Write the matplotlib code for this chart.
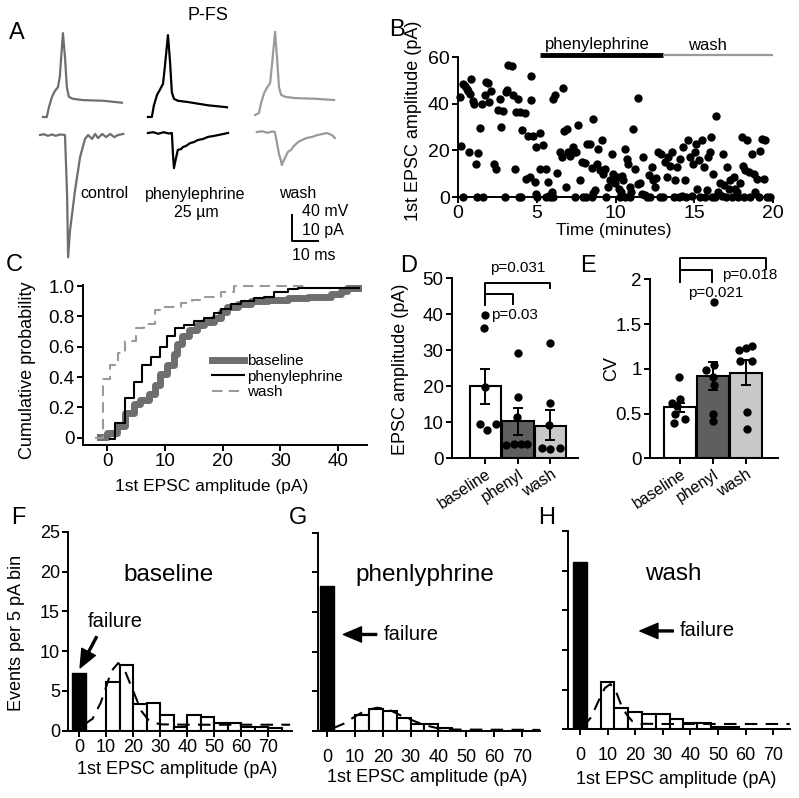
import matplotlib
matplotlib.use('Agg')
import matplotlib.pyplot as plt
import numpy as np

plt.rcParams['font.family'] = ['Liberation Sans', 'DejaVu Sans']
plt.rcParams['axes.linewidth'] = 1.4

# ---------------- data ----------------
# A: example traces (ms, mV) and EPSCs (ms, pA)
SPIKE_T = [0, 1.5, 2.3, 3.5, 4.6, 5.8, 6.5, 7.7, 8.5, 9.2, 10.0, 11.5, 15.4, 23.1, 30.4]
SPIKE_CTRL = [0, 0, 15, 31, 40, 46, 62, 129, 92, 46, 31, 28, 26, 25, 22]
SPIKE_PHEN = [0, 0, 18, 34, 42, 51, 77, 126, 85, 38, 28, 25, 23, 18, 15]
SPIKE_WASH = [0, 3, 18, 34, 42, 49, 77, 128, 85, 43, 31, 28, 26, 25, 23]

EPSC_CTRL_T = [0, 1.5, 3, 4.6, 6, 7.7, 9.6, 10.4, 10.8, 11.5, 13.5, 15.4, 17.3, 18.5, 20,
               21.2, 22.3, 23.9, 25.4, 27, 28.5, 30, 32]
EPSC_CTRL = [0, 0.3, -0.3, 0.2, -0.3, 0.2, 0, -23, -47, -37, -21, -8.5, -1.5, 0, -1.5,
             0.4, -1.2, 0.4, -0.8, 0.4, -0.8, 0, 0.4]
EPSC_PHEN_T = [0, 2, 4, 6, 8, 9.2, 9.6, 10, 10.8, 11.5, 12.7, 13.5, 14.6, 16.2, 17.7, 19.2,
               21.2, 23.1, 25, 27, 28.9, 30.8]
EPSC_PHEN = [0, 0.3, -0.3, 0.3, -0.2, 0, -7.7, -13.5, -9.6, -6.5, -6.2, -5.4, -5, -3.9, -3.5,
             -2.7, -2.3, -1.5, -1.2, -0.8, -0.4, 0]
EPSC_WASH_T = [0, 2, 4, 6, 6.9, 7.7, 8.5, 9.2, 9.6, 10.4, 11.2, 11.9, 13.1, 14.2, 15.8, 17.3,
               19.2, 21.2, 23.1, 25, 27, 28.9, 30]
EPSC_WASH = [0, 0.3, -0.3, 0.2, 0, -3.9, -8.5, -10.8, -12.7, -10.8, -9.2, -7.7, -6.9, -5.4,
             -3.9, -3.1, -2.3, -1.9, -1.2, -0.8, -0.4, -1.2, -2.3]

# B: 1st EPSC amplitude over time
B_BASE_T = [0.10, 0.17, 0.30, 0.30, 0.47, 0.55, 0.64, 0.70, 0.78, 0.85, 0.95, 1.00, 1.12, 1.20,
            1.27, 1.38, 1.55, 1.60, 1.70, 1.80, 1.90, 1.97, 2.10, 2.27, 2.44, 2.55, 2.65, 2.76,
            2.86, 3.00, 3.03, 3.10, 3.18, 3.40, 3.50, 3.60, 3.71, 3.82, 3.90, 3.92, 4.00, 4.09,
            4.24, 4.30, 4.45, 4.60, 4.66, 4.66, 4.77, 4.88, 4.94, 4.98]
B_BASE_A = [42.9, 21.7, 0, 48.6, 47.4, 46.4, 45.4, 19.3, 44.0, 50.4, 41.1, 39.7, 14.0, 0,
            18.9, 29.7, 39.7, 0, 43.6, 49.3, 48.9, 40.7, 45.4, 14.0, 12.1, 37.4, 42.1, 30.0,
            36.7, 0, 45.0, 45.7, 56.7, 56.0, 43.6, 12.1, 36.4, 42.1, 0, 36.4, 0, 28.6,
            36.0, 7.9, 26.0, 8.6, 51.7, 41.4, 26.0, 6.4, 1.1, 21.4]
B_PHEN_T = [5.0, 5.2, 5.2, 5.37, 5.6, 5.6, 5.73, 5.83, 5.85, 5.94, 6.05, 6.05, 6.15, 6.26, 6.47,
            6.58, 6.68, 6.72, 6.85, 6.89, 7.0, 7.1, 7.27, 7.36, 7.4, 7.49, 7.64, 7.74, 7.85,
            7.96, 8.06, 8.1, 8.17, 8.38, 8.48, 8.5, 8.55, 8.6, 8.7, 8.8, 8.9, 9.0, 9.12, 9.2,
            9.33, 9.4, 9.54, 9.65, 9.75, 9.86, 9.97, 10.07, 10.2, 10.3, 10.35, 10.4, 10.5, 10.6,
            10.6, 10.7, 10.8, 10.9, 10.9, 11.0, 11.1, 11.24, 11.4, 11.45, 11.56, 11.66, 11.77,
            11.88, 12.0, 12.1, 12.2, 12.3, 12.4, 12.5, 12.6, 12.7, 12.8, 12.9, 13.0]
B_PHEN_A = [0, 27.6, 11.9, 22.1, 11.9, 0, 6.4, 0.7, 0, 2.1, 0, 42.1, 43.6, 10.3, 19.3,
            17.1, 46.9, 28.4, 4.3, 29.3, 19.3, 17.4, 21.4, 19.3, 0, 19.3, 30.7, 7.1, 15.0,
            0, 14.6, 0, 22.6, 22.9, 12.6, 0, 33.6, 1.7, 2.9, 14.0, 20.7, 11.4, 24.6, 10.0,
            12.1, 0, 4.3, 7.1, 18.6, 10.0, 6.0, 8.6, 3.6, 0, 2.1, 8.9, 7.1, 20.7,
            0, 16.4, 14.3, 4.3, 0, 2.1, 29.3, 11.9, 42.6, 5.7, 6.0, 1.4, 17.1,
            0.7, 0, 9.3, 0, 12.9, 7.1, 4.3, 8.3, 19.3, 0, 18.6, 0]
B_WASH_T = [13.15, 13.25, 13.36, 13.47, 13.57, 13.7, 13.8, 13.9, 14.0, 14.1, 14.2, 14.3, 14.4,
            14.5, 14.6, 14.7, 14.85, 14.9, 15.05, 15.1, 15.2, 15.27, 15.38, 15.5, 15.6, 15.7,
            15.8, 15.9, 15.97, 16.05, 16.1, 16.2, 16.3, 16.4, 16.5, 16.65, 16.75, 16.8, 16.9,
            17.0, 17.07, 17.18, 17.3, 17.4, 17.5, 17.6, 17.7, 17.8, 17.9, 18.0, 18.1, 18.13,
            18.24, 18.35, 18.45, 18.56, 18.66, 18.77, 18.88, 18.98, 19.09, 19.2, 19.3, 19.4,
            19.5, 19.6, 19.8]
B_WASH_A = [15.0, 8.6, 17.1, 13.1, 19.3, 0, 7.1, 12.9, 0, 16.4, 0.4, 21.4, 7.1,
            0, 24.3, 17.1, 0.4, 14.3, 19.3, 22.6, 3.6, 16.0, 0, 24.3, 12.9, 0,
            2.9, 17.1, 19.3, 25.7, 0, 10.0, 0, 34.6, 2.1, 6.0, 0.4, 18.6, 5.0,
            0, 12.9, 3.6, 7.1, 0, 8.6, 3.6, 2.1, 0, 6.0, 25.7, 13.1, 0,
            11.4, 24.3, 10.7, 0, 18.6, 10.0, 2.1, 7.9, 0, 19.6, 25.0, 7.9,
            24.6, 0, 0]

# C: cumulative probability (step edges and levels)
C_BASE_X = [-1.2, 0, 1.7, 3.1, 4.6, 5.7, 7.2, 8.3, 9.2, 10.4, 11.5, 12.1, 13.0, 14.1, 15.6,
            16.8, 18.5, 19.7, 20.8, 22.6, 24.9, 27.8, 31.3, 34.7, 38.8, 40.5, 41.5, 43.5]
C_BASE_Y = [0.005, 0.03, 0.08, 0.16, 0.22, 0.25, 0.29, 0.35, 0.42, 0.48, 0.55, 0.62, 0.67,
            0.71, 0.74, 0.76, 0.79, 0.83, 0.86, 0.88, 0.90, 0.91, 0.92, 0.93, 0.95, 0.97,
            0.99, 0.99]
C_PHEN_X = [0.5, 1.4, 3.0, 4.6, 6.0, 7.5, 9.1, 10.4, 11.8, 13.3, 15.0, 16.8, 18.5, 19.7, 21.4,
            23.1, 25.4, 27.2, 28.9, 31.3, 33.0, 43.6]
C_PHEN_Y = [-0.01, 0.10, 0.26, 0.37, 0.48, 0.53, 0.60, 0.67, 0.72, 0.74, 0.77, 0.79, 0.82,
            0.85, 0.88, 0.90, 0.92, 0.93, 0.96, 0.98, 0.99, 0.99]
C_WASH_X = [-2.1, -0.75, 0.5, 1.8, 3.1, 4.9, 6.3, 8.2, 9.5, 12.7, 14.7, 17.0, 19.7, 22.0, 34.1]
C_WASH_Y = [0, 0.39, 0.48, 0.56, 0.64, 0.72, 0.75, 0.84, 0.86, 0.89, 0.91, 0.93, 0.96, 1.0, 1.0]

# D / E: group summaries
GROUPS = ['baseline', 'phenyl', 'wash']
D_MEAN = [20.0, 10.3, 9.1]
D_LO = [15.2, 6.6, 5.0]
D_HI = [24.8, 13.9, 13.4]
D_PTS = [[39.8, 36.1, 19.7, 9.5, 7.9, 9.5],
         [29.2, 16.9, 11.6, 3.8, 4.0, 4.0, 3.9],
         [32.1, 15.3, 9.2, 2.8, 2.5, 2.8]]
D_JIT = [[0, -0.03, 0, -0.17, 0.04, 0.31],
         [0, 0, -0.03, -0.37, -0.12, 0.1, 0.28],
         [0, 0, -0.03, -0.27, 0, 0.3]]
E_MEAN = [0.57, 0.92, 0.95]
E_LO = [0.52, 0.76, 0.82]
E_HI = [0.62, 1.08, 1.10]
E_PTS = [[0.91, 0.62, 0.66, 0.58, 0.49, 0.39, 0.44],
         [1.75, 0.99, 1.04, 0.91, 0.82, 0.49, 0.42],
         [1.21, 1.23, 1.26, 1.09, 1.09, 0.52, 0.33]]
E_JIT = [[-0.03, -0.25, 0, -0.1, -0.15, -0.18, 0.15],
         [0.03, -0.21, 0.03, 0, 0.03, 0, 0],
         [-0.2, 0, 0.17, -0.18, 0.17, 0.02, 0.02]]

# F / G / H: histograms (5 pA bins, left edges) + failures + fit curve
F_LEFT = [10, 15, 20, 25, 30, 35, 40, 45, 50, 55, 60, 65, 70]
F_COUNT = [6.15, 8.25, 3.35, 3.5, 1.97, 0.5, 1.97, 1.76, 0.92, 0.92, 0.5, 0.5, 0.4]
F_FAIL = 7.2
F_FIT_X = [2, 5, 8, 10, 12, 14.5, 17, 20, 23, 26, 30, 40, 78]
F_FIT_Y = [0.8, 1.5, 3.5, 5.5, 7.5, 8.5, 7.5, 5.0, 2.5, 1.2, 0.8, 0.75, 0.75]

G_LEFT = [10, 15, 20, 25, 30, 35, 40]
G_COUNT = [2.0, 2.8, 2.5, 1.55, 0.85, 0.85, 0.3]
G_FAIL = 18.3
G_FIT_X = [2, 6, 10, 14, 18, 22, 26, 30, 35, 40, 45, 77]
G_FIT_Y = [0.3, 0.9, 1.8, 2.6, 2.9, 2.7, 2.0, 1.4, 0.7, 0.3, 0.15, 0.1]

H_LEFT = [7.5, 12.5, 17.5, 22.5, 27.5, 32.5, 37.5, 42.5, 47.5, 52.5]
H_COUNT = [6.0, 2.65, 2.2, 1.93, 1.93, 1.26, 0.76, 0.84, 0.25, 0.34]
H_FAIL = 21.1
H_FIT_X = [1, 4, 7, 9, 11, 13, 15, 17, 19, 22, 30, 76]
H_FIT_Y = [0.3, 1.5, 3.8, 5.2, 5.7, 4.8, 3.0, 1.8, 1.0, 0.7, 0.67, 0.67]

# ---------------- layout helpers ----------------
W, H = 799, 798
fig = plt.figure(figsize=(W / 100, H / 100), dpi=100)


def box(l, t, r, b):
    return fig.add_axes([l / W, 1 - b / H, (r - l) / W, (b - t) / H])


def ftext(x, y, s, size=13, **kw):
    kw.setdefault('ha', 'center')
    kw.setdefault('va', 'center')
    fig.text(x / W, 1 - y / H, s, fontsize=size, **kw)


def style(ax, fs=13.5):
    ax.spines['top'].set_visible(False)
    ax.spines['right'].set_visible(False)
    ax.tick_params(direction='out', length=4, width=1.4, labelsize=fs, pad=2)


GRAY_C = '#6e6e6e'
GRAY_W = '#9a9a9a'

# ---------------- A ----------------
axA = box(0, 0, 400, 270)
axA.set_xlim(0, 400 / 2.6)
axA.set_ylim(-270 / 0.65, 0)
axA.axis('off')
traces = [
    (SPIKE_CTRL, EPSC_CTRL_T, EPSC_CTRL, GRAY_C, (16.5, -180), (15.4, -207.7)),
    (SPIKE_PHEN, EPSC_PHEN_T, EPSC_PHEN, 'black', (56.9, -180), (56.9, -204.6)),
    (SPIKE_WASH, EPSC_WASH_T, EPSC_WASH, GRAY_W, (98.1, -176.9), (98.8, -203.1)),
]
for v, et, e, col, (sx, sy), (ex, ey) in traces:
    axA.plot(np.array(SPIKE_T) + sx, np.array(v) + sy, color=col, lw=1.6)
    axA.plot(np.array(et) + ex, np.array(e) * 4 + ey, color=col, lw=1.6)
# scale bar: 10 ms / 40 mV (10 pA)
axA.plot([112.2, 112.2, 122.2], [-330.8, -370.8, -370.8], color='black', lw=1.4)

ftext(17, 33, 'A', 17)
ftext(208, 15, 'P-FS', 13)
ftext(104, 194, 'control', 11.5)
ftext(195, 194, 'phenylephrine', 11.5)
ftext(196, 212, '25 µm', 11.5)
ftext(298, 194, 'wash', 11.5)
ftext(302, 212, '40 mV', 11.5, ha='left')
ftext(302, 231, '10 pA', 11.5, ha='left')
ftext(292, 255, '10 ms', 11.5, ha='left')

# ---------------- B ----------------
axB = box(458, 57, 773, 197)
style(axB, 14)
for t, a in [(B_BASE_T, B_BASE_A), (B_PHEN_T, B_PHEN_A), (B_WASH_T, B_WASH_A)]:
    axB.scatter(t, a, s=36, color='black', linewidths=0, clip_on=False, zorder=3)
axB.set_xlim(0, 20)
axB.set_ylim(0, 60)
axB.set_xticks([0, 5, 10, 15, 20])
axB.set_yticks([0, 20, 40, 60])
axB.plot([5.2, 13.0], [61, 61], color='black', lw=3.5, clip_on=False, solid_capstyle='butt')
axB.plot([13.0, 20.0], [61, 61], color=GRAY_W, lw=1.6, clip_on=False, solid_capstyle='butt')
ftext(597, 44, 'phenylephrine', 12)
ftext(707, 45, 'wash', 12)
ftext(397, 30, 'B', 17)
ftext(414, 121, '1st EPSC amplitude (pA)', 13, rotation=90)
ftext(614, 230, 'Time (minutes)', 12.5)

# ---------------- C ----------------
axC = box(83, 284.5, 367, 445)
style(axC)
axC.step(C_BASE_X, C_BASE_Y, where='post', color=GRAY_C, lw=5, label='baseline')
axC.step(C_PHEN_X, C_PHEN_Y, where='post', color='black', lw=1.5, label='phenylephrine')
axC.step(C_WASH_X, C_WASH_Y, where='post', color=GRAY_W, lw=1.5, dashes=(5, 3), label='wash')
axC.set_xlim(-4.2, 45)
axC.set_ylim(-0.048, 1.01)
axC.set_xticks([0, 10, 20, 30, 40])
axC.set_yticks([0, 0.2, 0.4, 0.6, 0.8, 1.0])
axC.set_yticklabels(['0', '0.2', '0.4', '0.6', '0.8', '1.0'])
axC.legend(loc='upper left', bbox_to_anchor=(212 / W, 1 - 354 / H),
           bbox_transform=fig.transFigure, frameon=False, fontsize=11,
           handlelength=2.1, handletextpad=0.2, labelspacing=0.1,
           borderpad=0, borderaxespad=0)
ftext(14, 265, 'C', 17)
ftext(28, 370, 'Cumulative probability', 13, rotation=90)
ftext(212, 487, '1st EPSC amplitude (pA)', 12.5)

# ---------------- D / E ----------------
BAR_COLORS = ['white', '#5f5f5f', '#c8c8c8']


def summary(ax, means, lo, hi, pts, jit):
    x = np.arange(len(means))
    ax.bar(x, means, width=0.96, color=BAR_COLORS, edgecolor='black', lw=1.5, zorder=1)
    for i in range(len(means)):
        ax.scatter(np.array(jit[i]) + i, pts[i], s=36, color='black', linewidths=0, zorder=3,
                   clip_on=False)
    err = [np.array(means) - np.array(lo), np.array(hi) - np.array(means)]
    ax.errorbar(x, means, yerr=err, fmt='none', ecolor='black', elinewidth=1.4,
                capsize=3.6, capthick=1.4, zorder=4)
    ax.set_xticks(x)
    ax.set_xticklabels(GROUPS, rotation=33, ha='right', rotation_mode='anchor', fontsize=11.5)


axD = box(452, 278.3, 578, 458.3)
style(axD)
summary(axD, D_MEAN, D_LO, D_HI, D_PTS, D_JIT)
axD.set_xlim(-1.03, 2.85)
axD.set_ylim(0, 50)
axD.set_yticks([0, 10, 20, 30, 40, 50])
axD.plot([0, 0, 2, 2], [42.6, 48.7, 48.7, 47.2], color='black', lw=1.4, clip_on=False)
axD.plot([0, 0.85, 0.85], [45.6, 45.6, 42.8], color='black', lw=1.4, clip_on=False)
axD.text(1.0, 52.9, 'p=0.031', fontsize=11, ha='center', va='center')
axD.text(0.17, 39.8, 'p=0.03', fontsize=11, ha='left', va='center')
ftext(409, 266, 'D', 17)
ftext(401, 369, 'EPSC amplitude (pA)', 13, rotation=90)

axE = box(650, 279.3, 778, 458.3)
style(axE)
summary(axE, E_MEAN, E_LO, E_HI, E_PTS, E_JIT)
axE.set_xlim(-0.91, 2.97)
axE.set_ylim(0, 2)
axE.set_yticks([0, 0.5, 1, 1.5, 2])
axE.set_yticklabels(['0', '0.5', '1', '1.5', '2'])
axE.plot([0, 0, 2.6, 2.6], [1.97, 2.24, 2.24, 2.12], color='black', lw=1.4, clip_on=False)
axE.plot([0, 0.98, 0.98], [2.10, 2.10, 1.97], color='black', lw=1.4, clip_on=False)
axE.text(1.27, 2.05, 'p=0.018', fontsize=11, ha='left', va='center')
axE.text(0.24, 1.85, 'p=0.021', fontsize=11, ha='left', va='center')
ftext(588, 266, 'E', 17)
ftext(612, 369, 'CV', 13, rotation=90)


# ---------------- F / G / H ----------------
def hist_panel(ax, left, count, fail, fx, fy, xlim, title, tx, tip, tail, ftx, labels, xpad):
    style(ax, 13)
    ax.tick_params(axis='x', pad=xpad)
    ax.bar([0], [fail], width=5, color='black', edgecolor='black', lw=1.0, zorder=2)
    ax.bar(left, count, width=5, align='edge', color='white', edgecolor='black', lw=1.5, zorder=1)
    ax.plot(fx, fy, color='black', lw=1.5, dashes=(6, 4), zorder=3)
    ax.set_xlim(*xlim)
    ax.set_ylim(0, 25)
    ax.set_xticks([0, 10, 20, 30, 40, 50, 60, 70])
    ax.set_yticks([0, 5, 10, 15, 20, 25])
    if not labels:
        ax.set_yticklabels([])
    ax.text(tx, 19.6, title, fontsize=17.5, ha='center', va='center')
    ax.annotate('', xy=tip, xytext=tail,
                arrowprops=dict(width=1.4, headwidth=11, headlength=13, color='black', shrink=0))
    ax.text(ftx[0], ftx[1], 'failure', fontsize=14.5, ha='left', va='center')


axF = box(68.3, 531.7, 291.7, 730.7)
hist_panel(axF, F_LEFT, F_COUNT, F_FAIL, F_FIT_X, F_FIT_Y, (-3.96, 78.6), 'baseline', 33,
           (0.4, 7.9), (6.5, 11.8), (3.3, 13.7), True, 2)
axG = box(318.3, 532.7, 540, 730.7)
hist_panel(axG, G_LEFT, G_COUNT, G_FAIL, G_FIT_X, G_FIT_Y, (-3.24, 76.6), 'phenlyphrine', 35.2,
           (5.8, 12.15), (17.8, 12.15), (20.2, 12.1), False, 9)
axH = box(568.3, 531, 790, 729.3)
hist_panel(axH, H_LEFT, H_COUNT, H_FAIL, H_FIT_X, H_FIT_Y, (-4.24, 76.1), 'wash', 33.8,
           (21.7, 12.4), (33.8, 12.4), (36.2, 12.4), False, 9)

ftext(18, 518, 'F', 17)
ftext(298, 518, 'G', 17)
ftext(547, 518, 'H', 17)
ftext(17, 633, 'Events per 5 pA bin', 13, rotation=90)
ftext(177, 769, '1st EPSC amplitude (pA)', 13)
ftext(427, 778, '1st EPSC amplitude (pA)', 13)
ftext(676, 779, '1st EPSC amplitude (pA)', 13)

fig.savefig('out.png', dpi=100)
